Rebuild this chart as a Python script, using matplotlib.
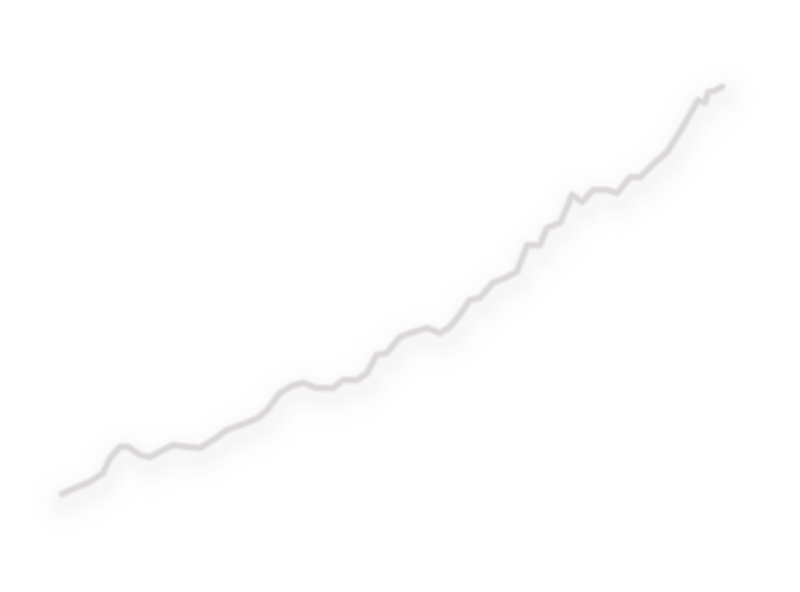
import numpy as np
import matplotlib
matplotlib.use("Agg")
import matplotlib.pyplot as plt
import matplotlib.transforms as mtransforms

# series (t = time index, value = level)
t = [0.0, 2.0, 4.2, 6.2, 7.3, 8.8, 10.0, 11.8, 13.3, 14.4, 15.6, 16.8, 18.9,
     20.9, 22.9, 25.0, 28.0, 29.7, 31.1, 33.0, 34.8, 36.5, 38.6, 41.1, 42.6,
     44.7, 46.2, 47.7, 49.2, 51.2, 52.7, 55.3, 57.3, 58.8, 60.3, 61.8, 63.3,
     65.3, 67.1, 68.9, 70.5, 72.4, 73.5, 75.5, 77.3, 78.8, 80.5, 82.6, 84.1,
     86.1, 87.6, 89.8, 91.7, 94.1, 96.4, 97.4, 97.9, 98.9, 100.0]
value = [10.0, 11.5, 13.0, 15.2, 19.0, 21.8, 21.8, 19.8, 19.2, 20.2, 21.2,
         22.2, 21.8, 21.5, 23.5, 26.0, 27.8, 29.0, 31.0, 35.2, 37.0, 37.8,
         36.5, 36.5, 38.5, 38.5, 40.2, 44.8, 45.2, 49.2, 50.2, 51.5, 50.2,
         51.8, 54.8, 58.5, 59.0, 62.8, 64.0, 65.5, 72.2, 72.2, 76.5, 77.8,
         84.8, 83.0, 86.0, 86.0, 85.2, 89.2, 89.2, 92.8, 95.5, 101.8, 108.5,
         107.8, 110.5, 110.8, 111.8]

LINE_COLOR = "#dbd7db"
SHADOW_COLOR = "#bcb8c0"

fig = plt.figure(figsize=(8, 5.92), dpi=100)
ax = fig.add_axes([0, 0, 1, 1])
ax.set_xlim(-9.39, 111.82)
ax.set_ylim(-14.5, 133.5)
ax.axis("off")

# soft drop shadow below the line
for lw, a in [(48, 0.01), (36, 0.013), (26, 0.017), (18, 0.022), (11, 0.026)]:
    tr = mtransforms.offset_copy(ax.transData, fig=fig, x=2, y=-9, units="dots")
    ax.plot(t, value, color=SHADOW_COLOR, lw=lw, alpha=a, transform=tr,
            solid_capstyle="round", solid_joinstyle="round")

# blurred main line
for lw, a in [(7, 0.2), (5, 0.45)]:
    ax.plot(t, value, color=LINE_COLOR, lw=lw, alpha=a,
            solid_capstyle="round", solid_joinstyle="round")
ax.plot(t, value, color=LINE_COLOR, lw=3.0,
        solid_capstyle="round", solid_joinstyle="round")

fig.savefig("out.png", dpi=100, facecolor="white")
